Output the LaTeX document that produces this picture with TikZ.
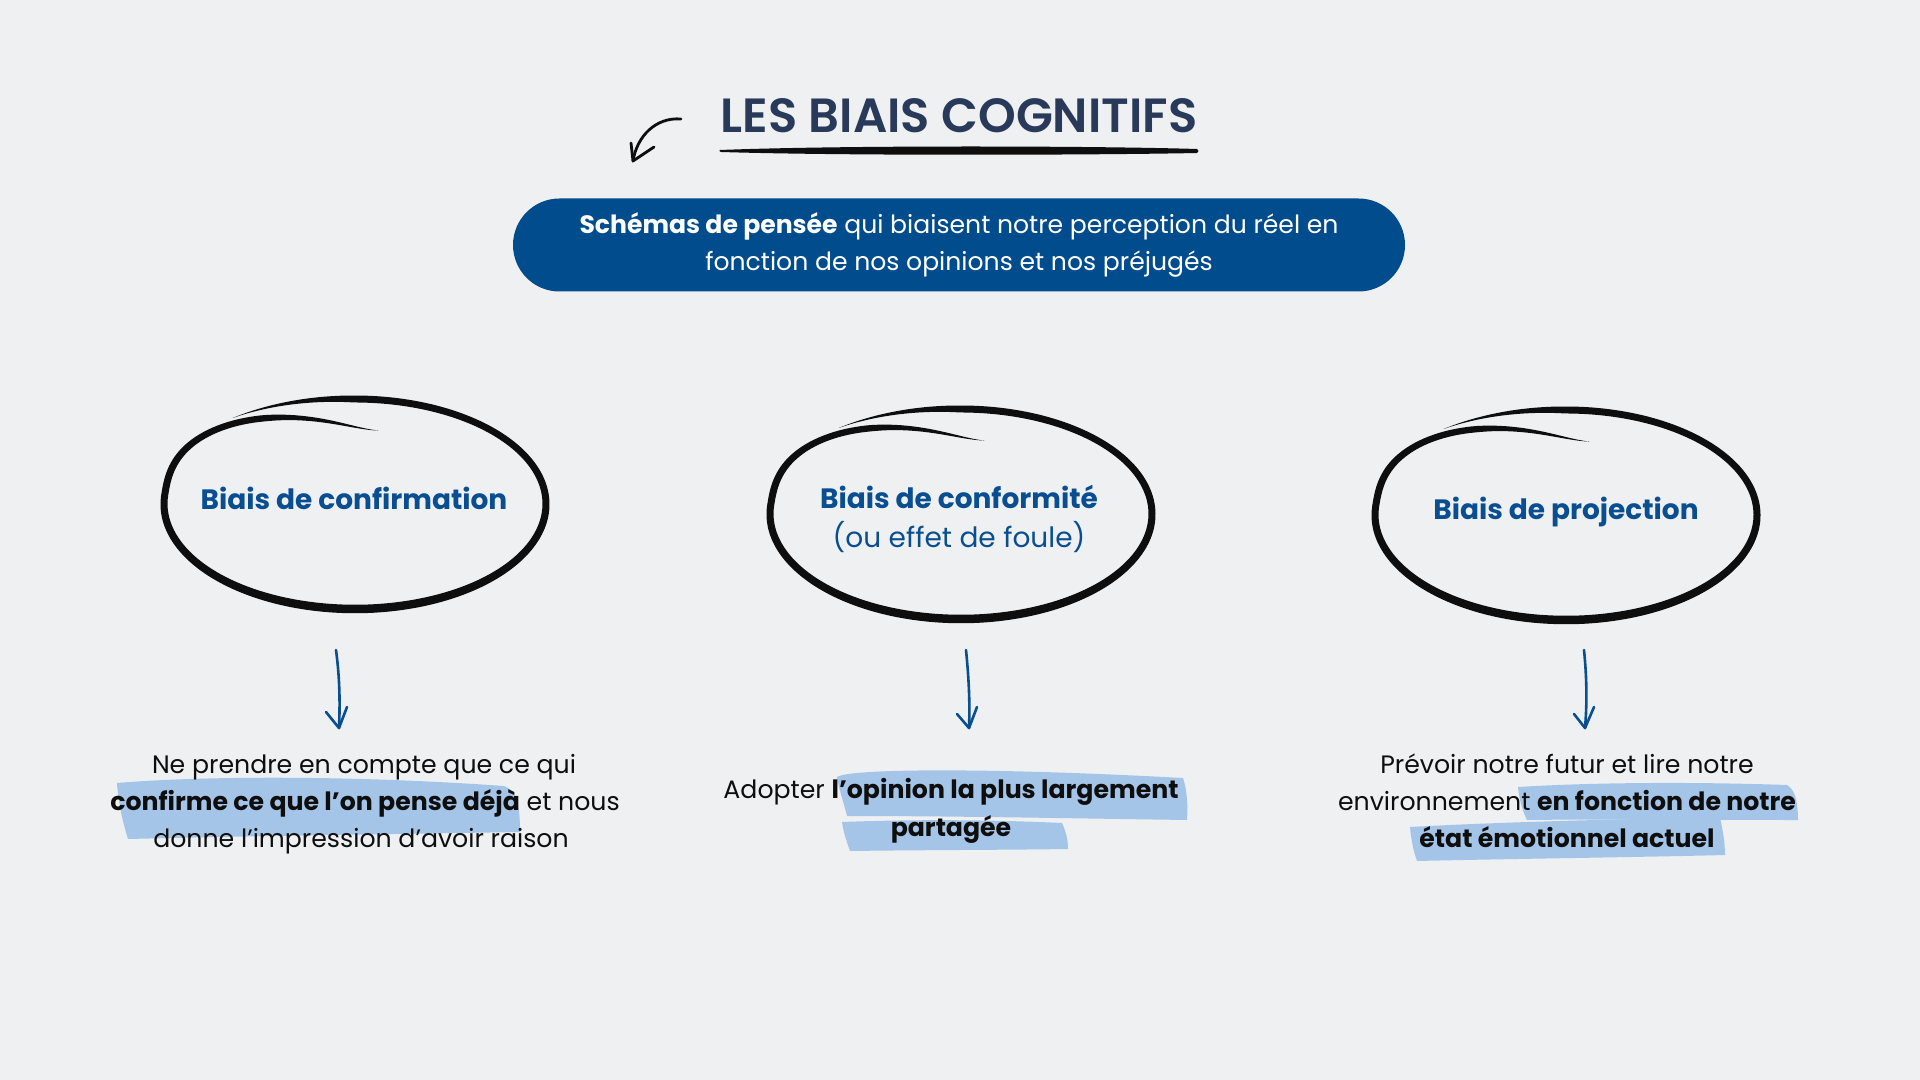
\documentclass[tikz,border=0pt]{standalone}
\usepackage{fontspec}
\setmainfont{Poppins}
\IfFontExistsTF{Poppins SemiBold}
  {\newfontfamily\titlefont{Poppins SemiBold}\newcommand\titlestyle{\titlefont}}
  {\IfFontExistsTF{Poppins Medium}
    {\newfontfamily\titlefont{Poppins Medium}\newcommand\titlestyle{\titlefont}}
    {\newfontfamily\titlefont{Poppins}[FakeStretch=0.95]\newcommand\titlestyle{\titlefont\bfseries}}}
\usetikzlibrary{shapes.geometric}
\definecolor{bg}{RGB}{239,240,242}
\definecolor{navy}{RGB}{40,57,90}
\definecolor{pillblue}{RGB}{0,76,140}
\definecolor{labblue}{RGB}{8,78,145}
\definecolor{hl}{RGB}{164,197,232}
\definecolor{ink}{RGB}{14,14,14}
\newcommand\handloop[2]{%
  \fill[ink] plot[domain=128:-280,samples=241,variable=\t]
    ({#1+(191*kk(\t)+ww(\t)/2)*cos(\t)},{#2-(105*kk(\t)+ww(\t)/2)*sin(\t)})
    -- plot[domain=-280:128,samples=241,variable=\t]
    ({#1+(191*kk(\t)-ww(\t)/2)*cos(\t)},{#2-(105*kk(\t)-ww(\t)/2)*sin(\t)}) -- cycle;}
\begin{document}
\begin{tikzpicture}[x=0.5pt,y=-0.5pt,
  declare function={
    ss(\t)=(-185-\t)/95;
    kk(\t)=ifthenelse(\t>90,1+0.04*(\t-90)/38,ifthenelse(\t>-185,1,1+ss(\t)*ss(\t)*(1.261-3.73*ss(\t)+2.179*ss(\t)*ss(\t))));
    ww(\t)=ifthenelse(\t>90,7*(128-\t)/38,ifthenelse(\t<-240,7*(\t+280)/40,7+1.5*max(0,-sin(\t))));
  },
  body/.style={anchor=base,inner sep=0,text=ink,font=\fontsize{12.6}{15}\selectfont},
  lab/.style={anchor=base,inner sep=0,text=labblue,font=\bfseries\fontsize{14}{17}\selectfont},
  labreg/.style={anchor=base,inner sep=0,text=labblue,font=\fontsize{14}{17}\selectfont},
  loop/.style={ellipse,minimum width=191pt,minimum height=105pt,inner sep=0},
  barrow/.style={draw=labblue,line width=1.3pt,line cap=round,line join=round},
  highlight/.style={fill=hl}
]
\useasboundingbox (0,0) rectangle (1920,1080);
\fill[bg] (0,0) rectangle (1920,1080);

% title
\node[anchor=base,inner sep=0,text=navy,font=\titlestyle\fontsize{24}{28}\selectfont] (title) at (959,133) {LES BIAIS COGNITIFS};
\fill[ink] (720,150) .. controls (850,145) and (1100,146) .. (1197,149) .. controls (1199,150) and (1199,152) .. (1197,153) .. controls (1100,155) and (850,156) .. (721,152) .. controls (719,152) and (719,150) .. (720,150) -- cycle;

% small arrow
\coordinate (sa1) at (681,119);
\coordinate (sa2) at (633,161);
\draw[ink,line width=1.4pt,line cap=round] (sa1) .. controls (656,117) and (637,136) .. (sa2);
\draw[ink,line width=1.4pt,line cap=round,line join=round] (631,143) -- (sa2) -- (654,147);

% pill
\node[fill=pillblue,rounded corners=23.25pt,minimum width=446pt,minimum height=46.5pt,inner sep=0,text=white,align=center,font=\fontsize{12.55}{18.5}\selectfont] (pill) at (959,245)
  {\textbf{Schémas de pensée} qui biaisent notre perception du réel en\\fonction de nos opinions et nos préjugés};

% loops
\node[loop] (e1) at (355,504) {};
\node[loop] (e2) at (961,514) {};
\node[loop] (e3) at (1566,515) {};
\handloop{355}{504}
\handloop{961}{514}
\handloop{1566}{515}
\node[lab] (l1) at (354,509) {Biais de confirmation};
\node[lab] (l2a) at (959,508) {Biais de conformité};
\node[labreg] (l2b) at (959,547) {(ou effet de foule)};
\node[lab] (l3) at (1566,519) {Biais de projection};

% arrows
\coordinate (a1s) at (336,650); \coordinate (a1e) at (339,728);
\coordinate (a2s) at (966,650); \coordinate (a2e) at (969,728);
\coordinate (a3s) at (1584,650); \coordinate (a3e) at (1585,728);
\draw[barrow] (a1s) .. controls (340,680) and (340,705) .. (a1e);
\draw[barrow] (326,712) -- (a1e) -- (347,707);
\draw[barrow] (a2s) .. controls (969,680) and (970,705) .. (a2e);
\draw[barrow] (957,714) -- (a2e) -- (977,707);
\draw[barrow] (a3s) .. controls (1587,680) and (1587,705) .. (a3e);
\draw[barrow] (1574,714) -- (a3e) -- (1594,707);

% highlights
\fill[highlight] (117,783) .. controls (200,776) and (350,775) .. (504,786) .. controls (515,790) and (520,800) .. (520,832) .. controls (400,834) and (250,836) .. (128,839) .. controls (122,820) and (118,800) .. (117,783) -- cycle;
\fill[highlight] (837,777) .. controls (850,768) and (1000,768) .. (1183,778) .. controls (1187,790) and (1188,805) .. (1187,820) .. controls (1050,818) and (950,816) .. (847,816) .. controls (843,800) and (839,790) .. (837,777) -- cycle;
\fill[highlight] (842,822) .. controls (920,819) and (1000,820) .. (1062,823) .. controls (1066,832) and (1068,840) .. (1068,849) .. controls (1000,850) and (920,850) .. (850,851) .. controls (846,840) and (843,830) .. (842,822) -- cycle;
\fill[highlight] (1518,787) .. controls (1600,782) and (1700,782) .. (1787,785) .. controls (1796,790) and (1798,805) .. (1798,820) .. controls (1700,820) and (1600,819) .. (1527,820) .. controls (1522,810) and (1519,798) .. (1518,787) -- cycle;
\fill[highlight] (1410,827) .. controls (1500,822) and (1650,818) .. (1720,818) .. controls (1723,830) and (1725,845) .. (1725,855) .. controls (1650,857) and (1500,859) .. (1417,861) .. controls (1413,850) and (1411,838) .. (1410,827) -- cycle;

% texts
\node[body] (t1a) at (364,773) {Ne prendre en compte que ce qui};
\node[body] (t1b) at (365,810) {\textbf{confirme ce que l’on pense déjà} et nous};
\node[body] (t1c) at (361,847) {donne l’impression d’avoir raison};
\node[body] (t2a) at (951,798) {Adopter \textbf{l’opinion la plus largement}};
\node[body] (t2b) at (951,836) {\textbf{partagée}};
\node[body] (t3a) at (1567,773) {Prévoir notre futur et lire notre};
\node[body] (t3b) at (1567,810) {environnement \textbf{en fonction de notre}};
\node[body] (t3c) at (1567,847) {\textbf{état émotionnel actuel}};
\end{tikzpicture}
\end{document}
